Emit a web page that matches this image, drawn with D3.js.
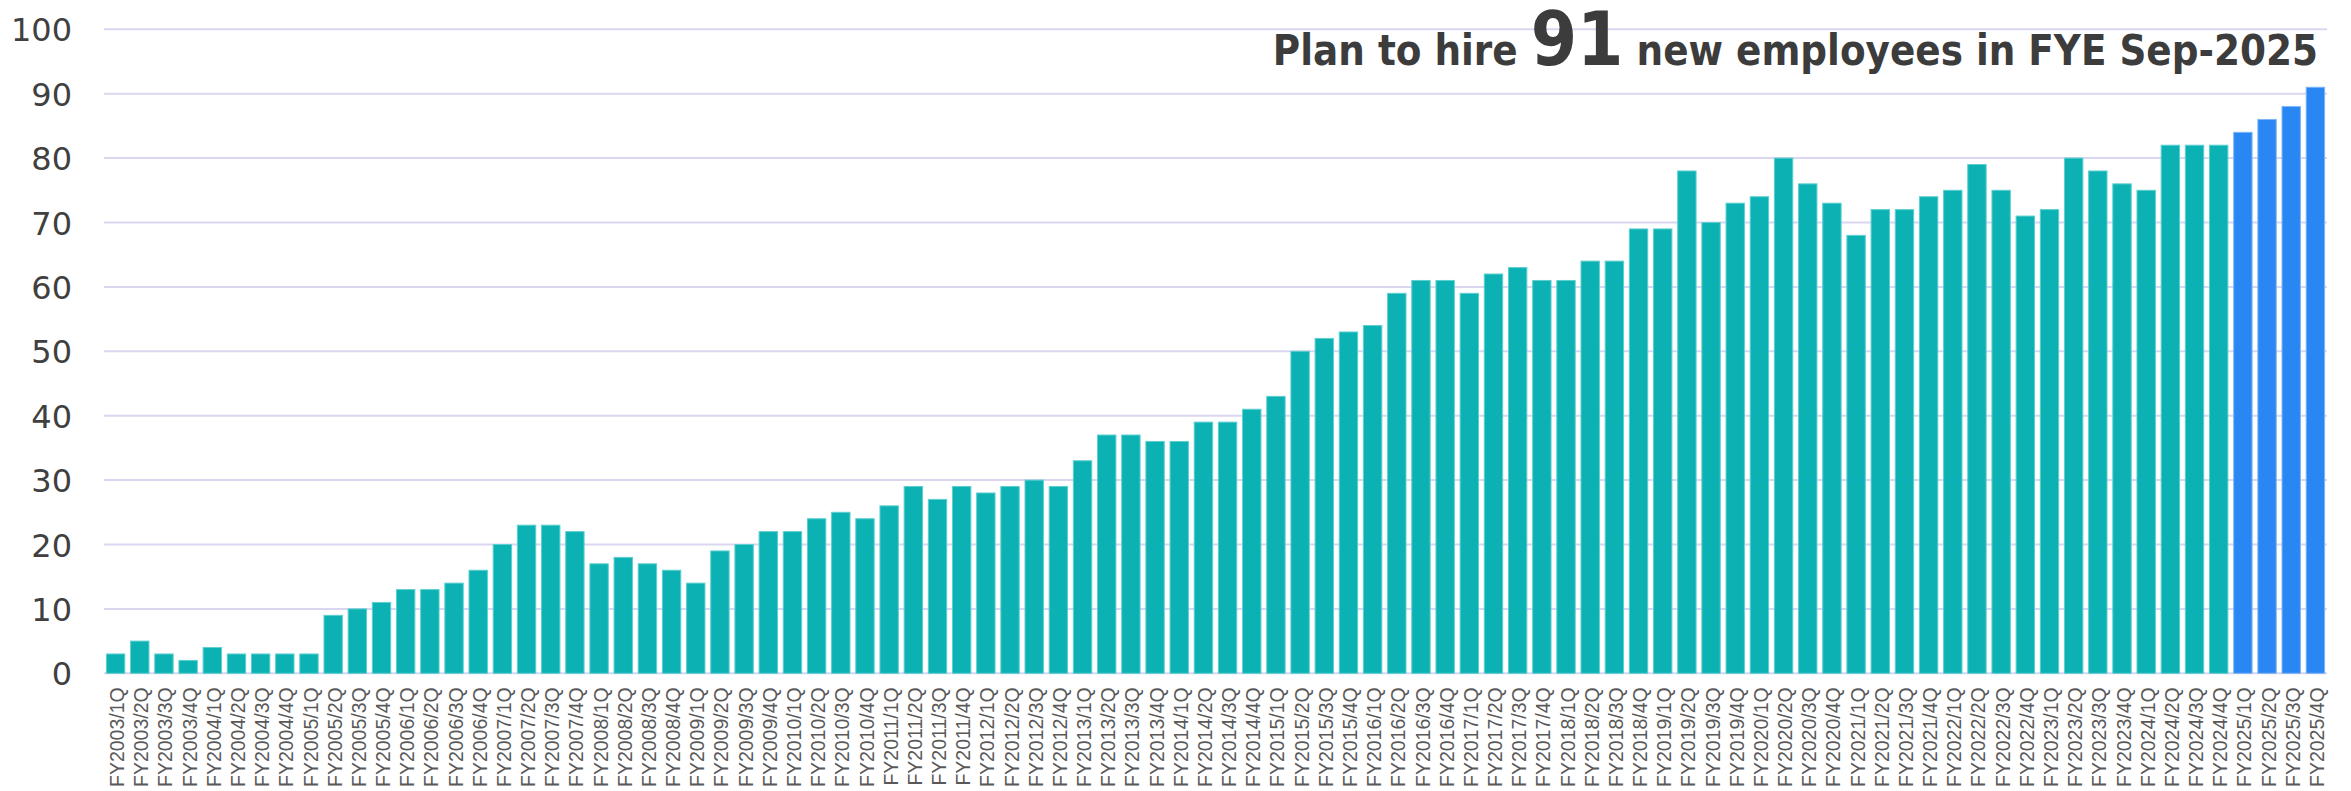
<!DOCTYPE html>
<html>
<head>
<meta charset="utf-8">
<script src="https://cdn.jsdelivr.net/npm/d3@7"></script>
<style>
  html, body { margin: 0; padding: 0; background: #ffffff; }
  svg { display: block; }
</style>
</head>
<body>
<svg id="chart" width="2351" height="791"></svg>
<script>
// Quarterly employee headcount, FY2003/1Q – FY2025/4Q (FY2025 = hiring plan)
const categories = [
  "FY2003/1Q","FY2003/2Q","FY2003/3Q","FY2003/4Q",
  "FY2004/1Q","FY2004/2Q","FY2004/3Q","FY2004/4Q",
  "FY2005/1Q","FY2005/2Q","FY2005/3Q","FY2005/4Q",
  "FY2006/1Q","FY2006/2Q","FY2006/3Q","FY2006/4Q",
  "FY2007/1Q","FY2007/2Q","FY2007/3Q","FY2007/4Q",
  "FY2008/1Q","FY2008/2Q","FY2008/3Q","FY2008/4Q",
  "FY2009/1Q","FY2009/2Q","FY2009/3Q","FY2009/4Q",
  "FY2010/1Q","FY2010/2Q","FY2010/3Q","FY2010/4Q",
  "FY2011/1Q","FY2011/2Q","FY2011/3Q","FY2011/4Q",
  "FY2012/1Q","FY2012/2Q","FY2012/3Q","FY2012/4Q",
  "FY2013/1Q","FY2013/2Q","FY2013/3Q","FY2013/4Q",
  "FY2014/1Q","FY2014/2Q","FY2014/3Q","FY2014/4Q",
  "FY2015/1Q","FY2015/2Q","FY2015/3Q","FY2015/4Q",
  "FY2016/1Q","FY2016/2Q","FY2016/3Q","FY2016/4Q",
  "FY2017/1Q","FY2017/2Q","FY2017/3Q","FY2017/4Q",
  "FY2018/1Q","FY2018/2Q","FY2018/3Q","FY2018/4Q",
  "FY2019/1Q","FY2019/2Q","FY2019/3Q","FY2019/4Q",
  "FY2020/1Q","FY2020/2Q","FY2020/3Q","FY2020/4Q",
  "FY2021/1Q","FY2021/2Q","FY2021/3Q","FY2021/4Q",
  "FY2022/1Q","FY2022/2Q","FY2022/3Q","FY2022/4Q",
  "FY2023/1Q","FY2023/2Q","FY2023/3Q","FY2023/4Q",
  "FY2024/1Q","FY2024/2Q","FY2024/3Q","FY2024/4Q",
  "FY2025/1Q","FY2025/2Q","FY2025/3Q","FY2025/4Q"
];

const employees = [
   3,  5,  3,  2,
   4,  3,  3,  3,
   3,  9, 10, 11,
  13, 13, 14, 16,
  20, 23, 23, 22,
  17, 18, 17, 16,
  14, 19, 20, 22,
  22, 24, 25, 24,
  26, 29, 27, 29,
  28, 29, 30, 29,
  33, 37, 37, 36,
  36, 39, 39, 41,
  43, 50, 52, 53,
  54, 59, 61, 61,
  59, 62, 63, 61,
  61, 64, 64, 69,
  69, 78, 70, 73,
  74, 80, 76, 73,
  68, 72, 72, 74,
  75, 79, 75, 71,
  72, 80, 78, 76,
  75, 82, 82, 82,
  84, 86, 88, 91
];

// Quarters that are plans rather than actuals
const planned = ["FY2025/1Q","FY2025/2Q","FY2025/3Q","FY2025/4Q"];

const yTicks = [0, 10, 20, 30, 40, 50, 60, 70, 80, 90, 100];

const headline = { before: "Plan to hire", number: "91", after: "new employees in FYE Sep-2025" };

const rows = categories.map((c, i) => ({ label: c, value: employees[i], plan: planned.includes(c) }));

const svg = d3.select("#chart");
const plot = { left: 104, right: 2327, top: 29.3, bottom: 673.3 };

const x = d3.scaleBand()
  .domain(categories)
  .range([plot.left, plot.right])
  .paddingInner(0.24)
  .paddingOuter(0.1);

const y = d3.scaleLinear()
  .domain([0, 100])
  .range([plot.bottom, plot.top]);

// Horizontal gridlines
svg.append("g")
  .selectAll("line")
  .data(yTicks)
  .join("line")
  .attr("x1", plot.left)
  .attr("x2", plot.right)
  .attr("y1", d => y(d))
  .attr("y2", d => y(d))
  .attr("stroke", "#dad6ef")
  .attr("stroke-width", 2);

// Y axis labels
const yAxis = d3.axisLeft(y).tickValues(yTicks).tickSize(0).tickPadding(0);
svg.append("g")
  .attr("transform", "translate(72,0)")
  .call(yAxis)
  .call(g => g.select(".domain").remove())
  .call(g => g.selectAll("text")
    .attr("font-family", "'DejaVu Sans', sans-serif")
    .attr("font-size", 32)
    .attr("fill", "#404040")
    .attr("dy", "0.36em"));

// Bars
svg.append("g")
  .selectAll("rect")
  .data(rows)
  .join("rect")
  .attr("x", d => x(d.label))
  .attr("width", x.bandwidth())
  .attr("y", d => y(d.value))
  .attr("height", d => y(0) - y(d.value))
  .attr("fill", d => d.plan ? "#2887f3" : "#0bb1b3")
  .attr("stroke", d => d.plan ? "#7db3f6" : "#5ccfcf")
  .attr("stroke-width", 1);

// Category labels, rotated
const xAxis = d3.axisBottom(x).tickSize(0).tickPadding(0);
svg.append("g")
  .attr("transform", `translate(0,${plot.bottom})`)
  .call(xAxis)
  .call(g => g.select(".domain").remove())
  .call(g => g.selectAll("text")
    .attr("font-family", "'Liberation Sans', Arial, sans-serif")
    .attr("font-size", 19.5)
    .attr("fill", "#595959")
    .attr("text-anchor", "end")
    .attr("transform", "translate(1.5,14) rotate(-90)")
    .attr("x", 0)
    .attr("y", 0)
    .attr("dy", "0.36em"));

// Headline in the top-right corner
const title = svg.append("text")
  .attr("transform", "translate(2318,64.5) scale(0.89,1)")
  .attr("text-anchor", "end")
  .attr("font-family", "'DejaVu Sans', sans-serif")
  .attr("font-weight", "bold")
  .attr("font-size", 42)
  .attr("fill", "#3c3c3c");
title.append("tspan").text(headline.before + " ");
title.append("tspan").attr("font-size", 75).text(headline.number);
title.append("tspan").text(" " + headline.after);
</script>
</body>
</html>
